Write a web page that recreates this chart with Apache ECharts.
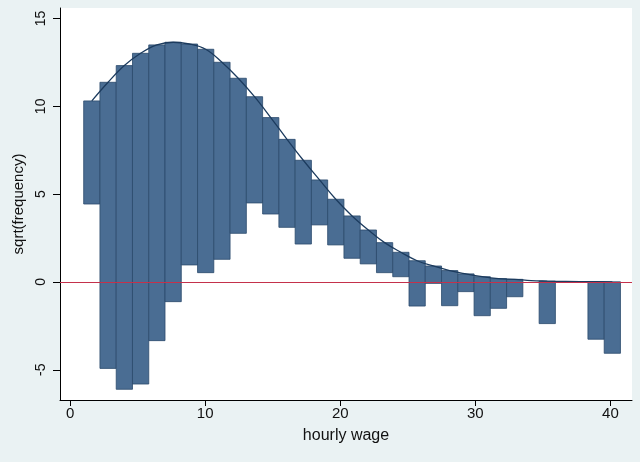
<!DOCTYPE html>
<html>
<head>
<meta charset="utf-8">
<script src="https://cdn.jsdelivr.net/npm/echarts@6/dist/echarts.min.js"></script>
<style>
  html, body { margin: 0; padding: 0; background: #eaf2f3; }
  #chart { width: 640px; height: 462px; }
</style>
</head>
<body>
<div id="chart"></div>
<script>
// histogram bins of hourly wage (lower edges), all bins same width
var binStarts = [1.004, 2.208, 3.413, 4.617, 5.821, 7.026, 8.230, 9.434, 10.638, 11.843,
  13.047, 14.251, 15.456, 16.660, 17.864, 19.068, 20.273, 21.477, 22.681, 23.886,
  25.090, 26.294, 27.499, 28.703, 29.907, 31.111, 32.316, 33.520, 34.724, 35.929,
  37.133, 38.337, 39.542];
var binWidth = 1.204;

// sqrt(expected) = top of each hanging bar, also the fitted curve
var barTop = [10.31, 11.37, 12.32, 13.02, 13.50, 13.65, 13.55, 13.25, 12.51, 11.60,
  10.55, 9.36, 8.12, 6.93, 5.81, 4.71, 3.76, 2.96, 2.24, 1.69,
  1.21, 0.91, 0.65, 0.46, 0.30, 0.19, 0.15, 0.08, 0.05, 0.03,
  0.02, 0.02, 0.01];

// sqrt(expected) - sqrt(observed) = bottom of each bar (null = empty bin)
var barBottom = [4.44, -4.92, -6.11, -5.81, -3.34, -1.12, 0.97, 0.53, 1.29, 2.77,
  4.50, 3.87, 3.11, 2.16, 3.25, 2.11, 1.35, 1.03, 0.53, 0.30,
  -1.37, -0.08, -1.35, -0.55, -1.92, -1.50, -0.84, null, -2.37, null,
  null, -3.26, -4.06];

var xTicks = [0, 10, 20, 30, 40];
var yTicks = [-5, 0, 5, 10, 15];

var chart = echarts.init(document.getElementById('chart'));

var barData = [];
var curveData = [];
for (var i = 0; i < binStarts.length; i++) {
  curveData.push([binStarts[i] + binWidth / 2, barTop[i]]);
  if (barBottom[i] !== null) {
    barData.push([binStarts[i], binStarts[i] + binWidth, barTop[i], barBottom[i]]);
  }
}

function renderBar(params, api) {
  var p0 = api.coord([api.value(0), api.value(2)]);
  var p1 = api.coord([api.value(1), api.value(3)]);
  return {
    type: 'rect',
    shape: { x: p0[0], y: p0[1], width: p1[0] - p0[0], height: p1[1] - p0[1] },
    style: { fill: '#4a6d93', stroke: '#2b4a6c', lineWidth: 0.8 }
  };
}

var font = 'Liberation Sans, Arial, sans-serif';

var option = {
  backgroundColor: '#eaf2f3',
  animation: false,
  grid: {
    left: 60, right: 8, top: 8, bottom: 62,
    show: true, backgroundColor: '#ffffff', borderWidth: 0
  },
  xAxis: {
    type: 'value',
    min: -0.75,
    max: 41.6,
    name: 'hourly wage',
    nameLocation: 'middle',
    nameGap: 28,
    nameTextStyle: { color: '#111', fontSize: 16, fontFamily: font },
    axisLine: { onZero: false, lineStyle: { color: '#000', width: 1 } },
    axisTick: { length: 6, lineStyle: { color: '#000' }, customValues: xTicks },
    axisLabel: { color: '#111', fontSize: 15, fontFamily: font, margin: 6, customValues: xTicks },
    splitLine: { show: false }
  },
  yAxis: {
    type: 'value',
    min: -6.72,
    max: 15.6,
    name: 'sqrt(frequency)',
    nameLocation: 'middle',
    nameGap: 24,
    nameTextStyle: { color: '#111', fontSize: 15, fontFamily: font },
    axisLine: { onZero: false, lineStyle: { color: '#000', width: 1 } },
    axisTick: { length: 7, lineStyle: { color: '#000' }, customValues: yTicks },
    axisLabel: { color: '#111', fontSize: 14, fontFamily: font, rotate: 90, margin: 12, customValues: yTicks },
    splitLine: { show: false }
  },
  series: [
    {
      // zero reference line
      type: 'line',
      data: [],
      z: 1,
      markLine: {
        silent: true,
        symbol: 'none',
        label: { show: false },
        lineStyle: { color: '#c4314b', width: 1.2, type: 'solid' },
        data: [{ yAxis: 0 }]
      }
    },
    {
      type: 'custom',
      z: 2,
      renderItem: renderBar,
      encode: { x: [0, 1], y: [2, 3] },
      data: barData
    },
    {
      type: 'line',
      z: 3,
      data: curveData,
      smooth: 0.4,
      showSymbol: false,
      lineStyle: { color: '#1c3b5e', width: 1.3 }
    }
  ]
};

chart.setOption(option);
</script>
</body>
</html>
